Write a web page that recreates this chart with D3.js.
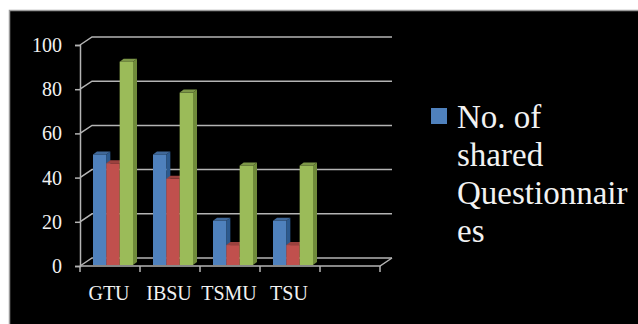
<!DOCTYPE html>
<html>
<head>
<meta charset="utf-8">
<script src="https://cdn.jsdelivr.net/npm/d3@7"></script>
</head>
<body style="margin:0;background:#fff">
<script>
let categories = ["GTU", "IBSU", "TSMU", "TSU", ""]
let seriesNames = ["No. of shared Questionnaires", "Series 2", "Series 3"]
let seriesColors = ["#4f81bd", "#c0504d", "#9bbb59"]
let sideColors = ["#2c5a8f", "#8e3331", "#6f8a3a"]
let values = [
  [50, 50, 20, 20, null],
  [46, 39, 9, 9, null],
  [92, 78, 45, 45, null]
]
let yTicks = [0, 20, 40, 60, 80, 100]
let legendLines = ["No. of", "shared", "Questionnair", "es"]

let svgWidth = 638
let svgHeight = 324
let serif = "Liberation Serif"

let svg = d3.select("body")
  .append("svg")
  .attr("width", svgWidth)
  .attr("height", svgHeight)
  .attr("font-family", serif)
  .style("display", "block")
  .style("font-family", `"${serif}"`)

// black panel with thin grey edge
svg.append("rect")
  .attr("x", 9.5)
  .attr("y", 10.5)
  .attr("width", svgWidth)
  .attr("height", svgHeight)
  .attr("fill", "#000")
  .attr("stroke", "#9a9a9a")
  .attr("stroke-width", 1.5)

let x = d3.scaleBand()
  .domain(categories)
  .range([80, 380])
  .padding(0)

let x1 = d3.scaleBand()
  .domain(d3.range(seriesNames.length))
  .range([13, 53])

let y = d3.scaleLinear()
  .domain([0, 100])
  .range([266, 45])

// depth of the back wall
let wallDx = 12, wallDy = -8
let gridColor = "#b4b4b4"

let grid = svg.append("g")
  .attr("stroke", gridColor)
  .attr("stroke-width", 1.5)
  .attr("fill", "none")

// back wall lines and left side diagonals
grid.selectAll(".back")
  .data(yTicks)
  .enter()
  .append("path")
  .attr("d", d => `M${x.range()[0]},${y(d)} L${x.range()[0] + wallDx},${y(d) + wallDy} L${x.range()[1] + wallDx},${y(d) + wallDy}`)

// floor front edge and right diagonal
grid.append("path")
  .attr("d", `M${x.range()[0]},${y(0)} L${x.range()[1]},${y(0)} L${x.range()[1] + wallDx},${y(0) + wallDy}`)

// y axis
let yAxis = d3.axisLeft(y)
  .tickValues(yTicks)
  .tickSize(5)
  .tickPadding(13)

let yg = svg.append("g")
  .attr("transform", `translate(${x.range()[0]},0)`)
  .call(yAxis)
  .attr("font-family", serif)
  .attr("font-size", 20)
yg.select(".domain").attr("stroke", gridColor).attr("stroke-width", 1.5)
yg.selectAll(".tick line").attr("stroke", gridColor).attr("stroke-width", 1.5)
yg.selectAll(".tick text")
  .attr("fill", "#f2f2f2")
  .attr("font-family", serif)
  .style("font-family", `"${serif}"`)

// x axis: labels at band centres, ticks at band edges
let xAxis = d3.axisBottom(x).tickSize(0).tickPadding(20)
let xg = svg.append("g")
  .attr("transform", `translate(-1,${y(0)})`)
  .call(xAxis)
  .attr("font-family", serif)
  .attr("font-size", 20)
xg.select(".domain").remove()
xg.selectAll(".tick text")
  .attr("fill", "#f2f2f2")
  .attr("font-family", serif)
  .style("font-family", `"${serif}"`)

let edges = categories.map(c => x(c)).concat([x.range()[1]])
grid.selectAll(".xtick")
  .data(edges)
  .enter()
  .append("line")
  .attr("x1", d => d)
  .attr("x2", d => d)
  .attr("y1", y(0))
  .attr("y2", y(0) + 6)

// 3d bars
let barDx = 4, barDy = -3
let bars = []
values.forEach((vals, s) => {
  vals.forEach((v, i) => {
    if (v != null) bars.push({ s: s, cat: categories[i], v: v })
  })
})

let barG = svg.append("g")
  .attr("transform", "translate(0,-1)")

let bar = barG.selectAll(".bar")
  .data(bars)
  .enter()
  .append("g")

bar.append("path")
  .attr("fill", d => sideColors[d.s])
  .attr("d", function(d) {
    let x0 = x(d.cat) + x1(d.s)
    let w = x1.bandwidth()
    return `M${x0 + w},${y(d.v)} L${x0 + w + barDx},${y(d.v) + barDy} L${x0 + w + barDx},${y(0) + barDy} L${x0 + w},${y(0)} Z`
  })

bar.append("path")
  .attr("fill", d => d3.color(seriesColors[d.s]).darker(0.6))
  .attr("d", function(d) {
    let x0 = x(d.cat) + x1(d.s)
    let w = x1.bandwidth()
    return `M${x0},${y(d.v)} L${x0 + barDx},${y(d.v) + barDy} L${x0 + w + barDx},${y(d.v) + barDy} L${x0 + w},${y(d.v)} Z`
  })

bar.append("rect")
  .attr("x", d => x(d.cat) + x1(d.s))
  .attr("y", d => y(d.v))
  .attr("width", x1.bandwidth())
  .attr("height", d => y(0) - y(d.v))
  .attr("fill", d => seriesColors[d.s])

// legend (only the first entry is visible)
let legend = svg.append("g")
  .attr("transform", "translate(431,108)")

legend.append("rect")
  .attr("width", 16)
  .attr("height", 16)
  .attr("fill", seriesColors[0])

legend.selectAll("text")
  .data(legendLines)
  .enter()
  .append("text")
  .attr("x", 26)
  .attr("y", (d, i) => 20 + i * 38)
  .attr("fill", "#f2f2f2")
  .attr("font-family", serif)
  .attr("font-size", 33)
  .style("font-family", `"${serif}"`)
  .text(d => d)
</script>
</body>
</html>
